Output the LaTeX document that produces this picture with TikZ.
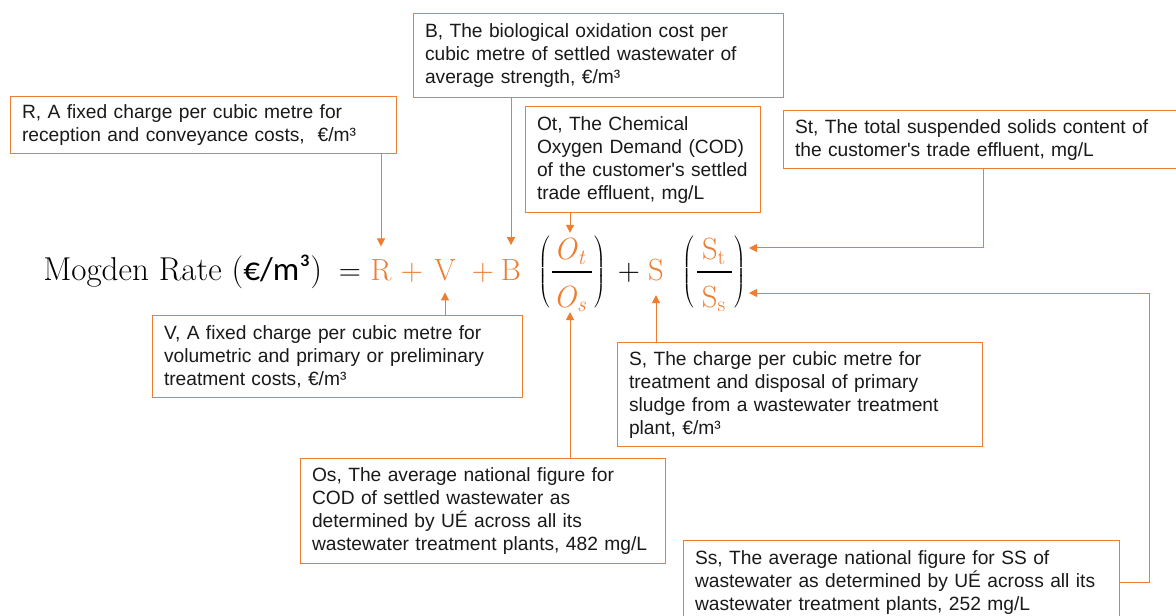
\RequirePackage{fix-cm}
\documentclass[tikz,border=0pt]{standalone}
\usepackage{fontspec}
\newfontfamily\boxfont{Liberation Sans}
\newfontfamily\unitfont{Carlito}
\usetikzlibrary{arrows.meta}

\definecolor{accent}{HTML}{ED7D31}
\definecolor{ink}{HTML}{1A1A1A}

\newcommand{\eqfont}{\fontsize{23}{27}\selectfont}
\newcommand{\lhsfont}{\fontsize{24.8}{29}\selectfont}
\newcommand{\tallparen}[1]{$\nulldelimiterspace=0pt\left#1\vcenter{\hbox{\rule{0pt}{58pt}}}\right.$}
\newcommand{\tallcparen}[1]{$\nulldelimiterspace=0pt\left.\vcenter{\hbox{\rule{0pt}{58pt}}}\right#1$}

\tikzset{
  note/.style={draw=accent, line width=1pt, anchor=north west, align=left,
    inner xsep=8.5pt, inner ysep=0pt, text=ink,
    font=\boxfont\fontsize{14.4}{17.25}\selectfont},
  eq/.style={anchor=base, inner sep=0pt, font=\eqfont, text=black},
  term/.style={eq, text=accent},
  paren/.style={anchor=center, inner sep=0pt, font=\eqfont},
  link/.style={draw=accent, line width=0.75pt, -{Triangle[width=6pt,length=6pt]}},
  bar/.style={line width=1.3pt, black}
}

\begin{document}
\begin{tikzpicture}[x=0.75pt, y=-0.75pt]
  \fill[white] (0,0) rectangle (1176,616);
  \useasboundingbox (0,0) rectangle (1176,616);

  % the formula
  \node[eq, anchor=base west, font=\lhsfont] (lhs) at (43,281) {Mogden Rate ({\unitfont €/m³})};
  \node[eq] (eqs) at (350,281) {$=$};
  \node[term] (R) at (381,281) {R};
  \node[term] (p1) at (412,281) {$+$};
  \node[term] (V) at (445,281) {V};
  \node[term] (p2) at (483,281) {$+$};
  \node[term] (B) at (511,281) {B};
  \node[paren] (lpO) at (544,272) {\tallparen(};
  \node[term] (Ot) at (570,260) {\textit{O}\textsubscript{\textit{t}}};
  \node[term] (Os) at (570,307) {\textit{O}\textsubscript{\textit{s}}};
  \draw[bar] (552,272) -- (592,272);
  \node[paren] (rpO) at (600,272) {\tallcparen)};
  \node[eq] (p3) at (629,281) {$+$};
  \node[term] (S) at (656,281) {S};
  \node[paren] (lpS) at (688,272) {\tallparen(};
  \node[term] (St) at (714,260) {S\textsubscript{t}};
  \node[term] (Ss) at (714,307) {S\textsubscript{s}};
  \draw[bar] (697,272) -- (732,272);
  \node[paren] (rpS) at (740,272) {\tallcparen)};

  % explanation boxes
  \node[note, minimum width=289.5pt, minimum height=42.75pt, text width=272.5pt] (Rbox) at (10,96)
    {R, A fixed charge per cubic metre for\\reception and conveyance costs,~ €/m³};
  \node[note, minimum width=277.5pt, minimum height=63pt, text width=260.5pt] (Bbox) at (413,13)
    {B, The biological oxidation cost per\\cubic metre of settled wastewater of\\average strength, €/m³};
  \node[note, minimum width=176.25pt, minimum height=79.5pt, text width=159.25pt] (Otbox) at (525,106)
    {Ot, The Chemical\\Oxygen Demand (COD)\\of the customer's settled\\trade effluent, mg/L};
  \node[note, minimum width=300pt, minimum height=43.5pt, text width=283pt] (Stbox) at (783,110)
    {St, The total suspended solids content of\\the customer's trade effluent, mg/L};
  \node[note, minimum width=277.5pt, minimum height=61.5pt, text width=260.5pt] (Vbox) at (152,315)
    {V, A fixed charge per cubic metre for\\volumetric and primary or preliminary\\treatment costs, €/m³};
  \node[note, minimum width=273.75pt, minimum height=78pt, text width=256.75pt] (Sbox) at (617,342)
    {S, The charge per cubic metre for\\treatment and disposal of primary\\sludge from a wastewater treatment\\plant, €/m³};
  \node[note, minimum width=273.75pt, minimum height=78.75pt, text width=256.75pt] (Osbox) at (300,458)
    {Os, The average national figure for\\COD of settled wastewater as\\determined by UÉ across all its\\wastewater treatment plants, 482 mg/L};
  \node[note, minimum width=327pt, minimum height=63pt, text width=310pt] (Ssbox) at (683,540)
    {Ss, The average national figure for SS of\\wastewater as determined by UÉ across all its\\wastewater treatment plants, 252 mg/L};

  % entry points on the right-hand bracket
  \coordinate (stIn) at (749,248);
  \coordinate (ssIn) at (749,293);

  % connectors
  \draw[link, shorten >=10pt] (Rbox.south -| R) -- (R.north);
  \draw[link, shorten >=11pt] (Bbox.south -| B) -- (B.north);
  \draw[link, shorten >=4pt] (Otbox.south -| Ot) -- (Ot.north);
  \draw[link, shorten >=8pt] (Vbox.north -| V) -- (V.south);
  \draw[link, shorten >=10pt] (Sbox.north -| S) -- (S.south);
  \draw[link, shorten >=0pt] (Osbox.north -| Os) -- (Os.south);
  \draw[link] (Stbox.south) |- (stIn);
  \draw[link] (Ssbox.east) -- ++(29,0) |- (ssIn);
\end{tikzpicture}
\end{document}
